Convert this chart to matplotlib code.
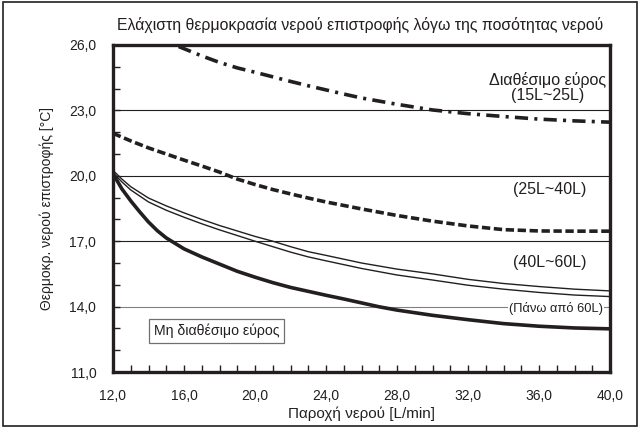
import matplotlib
matplotlib.use('Agg')
import matplotlib.pyplot as plt
from matplotlib.patches import Rectangle
from matplotlib.ticker import MultipleLocator, FixedLocator, FuncFormatter

plt.rcParams['font.family'] = ['Liberation Sans', 'DejaVu Sans']
plt.rcParams['lines.scale_dashes'] = False

INK = '#231f20'

# 15L~25L (dash-dot)
x_15_25 = [15.7, 17, 18, 19, 20, 21, 22, 23, 24, 25, 26, 28, 30, 32, 34, 36, 38, 40]
y_15_25 = [25.93, 25.5, 25.2, 24.95, 24.75, 24.54, 24.33, 24.13, 23.94, 23.75,
           23.57, 23.28, 23.02, 22.85, 22.72, 22.6, 22.52, 22.46]

# 25L~40L (dashed)
x_25_40 = [12, 13, 14, 15, 16, 17, 18, 19, 20, 21, 22, 23, 24, 26, 28, 30, 32, 34, 36, 38, 40]
y_25_40 = [21.95, 21.6, 21.28, 21.0, 20.72, 20.45, 20.17, 19.85, 19.6, 19.37, 19.17,
           18.98, 18.8, 18.48, 18.18, 17.92, 17.7, 17.53, 17.47, 17.46, 17.46]

# 40L~60L (double line)
x_40_60 = [12, 12.5, 13, 14, 15, 16, 17, 18, 19, 20, 21, 22, 23, 24, 26, 28, 30, 32,
           34, 36, 38, 40]
y_40_60_hi = [20.25, 19.85, 19.5, 18.98, 18.62, 18.3, 18.0, 17.72, 17.47, 17.22, 17.0,
              16.75, 16.52, 16.35, 16.0, 15.72, 15.5, 15.25, 15.06, 14.92, 14.8, 14.72]
y_40_60_lo = [20.15, 19.72, 19.35, 18.8, 18.42, 18.1, 17.8, 17.52, 17.26, 17.0, 16.75,
              16.5, 16.28, 16.1, 15.75, 15.45, 15.22, 14.98, 14.8, 14.65, 14.53, 14.46]

# over 60L (thick)
x_60 = [12, 12.5, 13, 13.5, 14, 14.5, 15, 16, 17, 18, 19, 20, 21, 22, 23, 24, 25, 26,
        27, 28, 30, 32, 34, 36, 38, 40]
y_60 = [20.1, 19.4, 18.85, 18.35, 17.88, 17.48, 17.15, 16.65, 16.28, 15.95, 15.62,
        15.35, 15.1, 14.88, 14.7, 14.52, 14.35, 14.17, 13.99, 13.84, 13.6, 13.4,
        13.22, 13.1, 13.02, 12.98]

grid_y = [23, 20, 17]
y_ticks = [11, 14, 17, 20, 23, 26]

fig = plt.figure(figsize=(6.4, 4.28), dpi=100)
ax = fig.add_axes([113 / 640, 1 - 372 / 428, 497 / 640, 327 / 428])

for g in grid_y:
    ax.axhline(g, color=INK, lw=0.8, zorder=1)
ax.axhline(14, color='#808080', lw=0.8, zorder=1)

ax.plot(x_15_25, y_15_25, color=INK, lw=2.6, dashes=(9.5, 4.5, 2.2, 4.5),
        solid_capstyle='butt', dash_capstyle='butt', zorder=3)
ax.plot(x_25_40, y_25_40, color=INK, lw=2.6, dashes=(6, 2.6),
        dash_capstyle='butt', zorder=3)
ax.plot(x_40_60, y_40_60_hi, color=INK, lw=1.0, zorder=3)
ax.plot(x_40_60, y_40_60_lo, color=INK, lw=1.0, zorder=3)
ax.plot(x_60, y_60, color=INK, lw=2.6, solid_capstyle='butt', zorder=3)

ax.set_xlim(12, 40)
ax.set_ylim(11, 26)
ax.xaxis.set_major_locator(MultipleLocator(4))
ax.xaxis.set_minor_locator(MultipleLocator(1))
ax.yaxis.set_major_locator(FixedLocator(y_ticks))
ax.yaxis.set_minor_locator(MultipleLocator(1))
fmt = FuncFormatter(lambda v, p: f'{v:.1f}'.replace('.', ','))
ax.xaxis.set_major_formatter(fmt)
ax.yaxis.set_major_formatter(fmt)
ax.tick_params(which='both', direction='in', length=5, width=1, color=INK,
               labelsize=10, labelcolor=INK)
ax.tick_params(axis='y', which='major', pad=12)
ax.tick_params(axis='x', which='major', pad=12)
for s in ax.spines.values():
    s.set_linewidth(2.4)
    s.set_color(INK)

ax.set_xlabel('Παροχή νερού [L/min]', fontsize=11, color=INK, labelpad=3)
ax.set_ylabel('Θερμοκρ. νερού επιστροφής [°C]', fontsize=10, color=INK, labelpad=11)

ax.text(36.5, 24.4, 'Διαθέσιμο εύρος', ha='center', va='center', fontsize=11.5, color=INK)
ax.text(36.5, 23.67, '(15L~25L)', ha='center', va='center', fontsize=11.5, color=INK)
ax.text(36.6, 19.39, '(25L~40L)', ha='center', va='center', fontsize=11.5, color=INK)
ax.text(36.6, 16.0, '(40L~60L)', ha='center', va='center', fontsize=11.5, color=INK)
ax.text(36.96, 13.93, '(Πάνω από 60L)', ha='center', va='center', fontsize=9.3, color=INK,
        bbox=dict(facecolor='white', edgecolor='none', pad=0.5), zorder=2)
ax.text(17.84, 12.9, 'Μη διαθέσιμο εύρος', ha='center', va='center', fontsize=10.2, color=INK,
        bbox=dict(facecolor='white', edgecolor='#707070', lw=0.9, pad=3.5), zorder=4)

fig.text(360 / 640, 1 - 25 / 428,
         'Ελάχιστη θερμοκρασία νερού επιστροφής λόγω της ποσότητας νερού',
         ha='center', va='center', fontsize=11.4, color=INK)

fig.patches.append(Rectangle((0.004, 0.005), 0.992, 0.99, transform=fig.transFigure,
                             fill=False, edgecolor=INK, lw=1.2))

fig.savefig('out.png', dpi=100)
plt.close()
